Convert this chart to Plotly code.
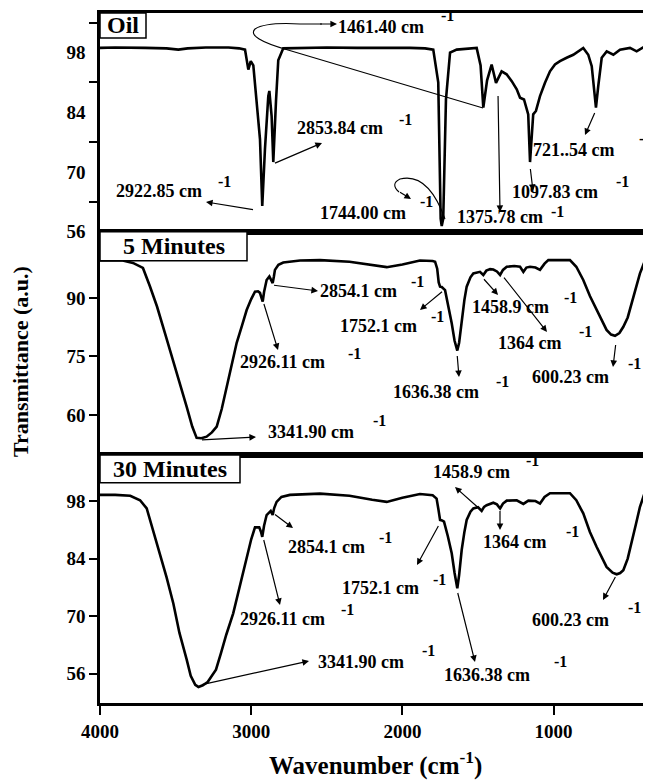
import plotly.graph_objects as go

# ---------------- data ----------------
wn_oil = [4000, 3900, 3700, 3560, 3482, 3420, 3300, 3150, 3080, 3041, 3019, 3003, 2986, 2964,
          2942, 2927, 2909, 2887, 2880, 2865, 2854, 2836, 2821, 2788, 2700, 2500, 2300, 2100,
          1950, 1850, 1796, 1763, 1747, 1740, 1730, 1712, 1685, 1641, 1560, 1509, 1483, 1465,
          1440, 1410, 1381, 1344, 1311, 1277, 1244, 1222, 1196, 1183, 1168, 1156, 1135, 1117,
          1090, 1057, 1024, 991, 958, 914, 870, 804, 771, 748, 733, 720, 705, 682, 649, 605,
          561, 495, 451, 396]
t_oil = [99.1, 99.2, 99.1, 99.0, 98.7, 99.0, 99.2, 99.2, 99.0, 98.7, 94.0, 96.0, 95.0, 87.0,
         77.7, 62.0, 75.4, 87.8, 89.0, 83.1, 72.3, 86.7, 96.2, 99.0, 99.1, 99.2, 99.1, 99.2,
         99.1, 99.0, 98.7, 91.0, 59.0, 57.3, 59.0, 87.0, 98.0, 98.7, 99.0, 99.1, 95.0, 85.1,
         91.5, 95.2, 90.9, 93.6, 92.9, 91.3, 89.4, 87.4, 87.0, 85.5, 83.5, 72.3, 83.5, 84.3,
         87.8, 90.9, 93.6, 95.2, 96.0, 96.8, 97.5, 99.1, 97.5, 94.8, 90.1, 85.1, 90.1, 96.8,
         98.3, 97.5, 98.7, 99.1, 98.3, 99.5]

wn_5 = [4000, 3850, 3782, 3716, 3670, 3623, 3570, 3517, 3470, 3427, 3390, 3361, 3330, 3295,
        3260, 3228, 3195, 3162, 3130, 3096, 3060, 3030, 3000, 2975, 2955, 2942, 2932, 2924,
        2915, 2898, 2880, 2866, 2858, 2850, 2843, 2820, 2788, 2677, 2545, 2350, 2200, 2104,
        2000, 1884, 1800, 1784, 1770, 1760, 1751, 1740, 1718, 1695, 1674, 1655, 1637, 1625,
        1608, 1590, 1575, 1550, 1531, 1487, 1465, 1445, 1420, 1399, 1375, 1354, 1335, 1310,
        1260, 1222, 1200, 1180, 1156, 1120, 1090, 1060, 1035, 950, 892, 850, 804, 760, 716,
        680, 650, 620, 594, 565, 539, 510, 484, 455, 429, 395]
t_5 = [99.6, 99.6, 99.0, 97.7, 93.0, 87.8, 80.9, 74.1, 67.5, 62.1, 57.0, 54.1, 54.0, 54.4,
       55.5, 57.0, 61.5, 67.3, 73.0, 78.5, 83.0, 86.9, 89.7, 91.6, 91.7, 91.3, 90.0, 89.1,
       91.5, 94.6, 95.5, 94.5, 93.8, 95.5, 97.2, 98.5, 99.1, 99.6, 99.7, 99.3, 98.4, 97.9,
       98.6, 99.6, 99.5, 99.3, 97.5, 94.0, 92.9, 92.8, 92.0, 88.0, 83.5, 79.0, 76.5, 78.5,
       84.4, 89.5, 92.9, 95.3, 96.3, 96.7, 95.9, 97.0, 97.4, 97.3, 96.8, 95.9, 97.2, 98.0,
       98.2, 98.0, 96.7, 97.8, 98.0, 97.8, 97.2, 98.8, 99.7, 99.7, 99.7, 98.0, 94.6, 90.5,
       86.9, 84.0, 81.8, 80.6, 80.3, 81.0, 82.6, 85.0, 88.6, 92.5, 96.3, 99.7]

wn_30 = [4000, 3900, 3800, 3735, 3691, 3650, 3603, 3560, 3515, 3475, 3427, 3400, 3370, 3349,
         3320, 3288, 3260, 3233, 3200, 3165, 3119, 3075, 3030, 3000, 2975, 2947, 2935, 2927,
         2915, 2898, 2871, 2858, 2848, 2832, 2800, 2744, 2545, 2350, 2200, 2104, 2000, 1884,
         1800, 1774, 1762, 1751, 1738, 1725, 1700, 1674, 1655, 1637, 1625, 1608, 1590, 1575,
         1550, 1531, 1500, 1476, 1460, 1443, 1399, 1375, 1354, 1335, 1310, 1244, 1200, 1167,
         1120, 1090, 1060, 1024, 892, 850, 804, 760, 716, 680, 650, 610, 583, 560, 539, 510,
         484, 455, 429, 395]
t_30 = [99.5, 99.5, 99.3, 98.2, 96.2, 91.0, 85.3, 79.5, 73.1, 66.0, 59.5, 55.5, 53.3, 52.8,
        53.2, 54.0, 55.5, 57.0, 61.0, 65.5, 70.7, 77.5, 84.5, 88.7, 91.6, 91.6, 90.5, 89.3,
        92.0, 94.6, 95.6, 94.6, 96.3, 97.8, 99.0, 99.5, 99.8, 99.3, 98.3, 97.8, 98.8, 99.7,
        99.4, 98.6, 96.0, 93.4, 93.3, 93.0, 89.5, 85.3, 80.5, 76.8, 80.0, 86.1, 90.5, 93.4,
        95.4, 96.2, 96.5, 95.6, 96.6, 97.0, 97.6, 97.2, 96.2, 97.4, 98.1, 98.2, 97.3, 98.1,
        98.0, 97.4, 99.0, 99.9, 99.9, 98.2, 95.0, 90.5, 86.9, 84.0, 82.0, 80.6, 80.2, 80.5,
        81.2, 84.0, 87.7, 92.5, 96.6, 100.3]

panel_names = ["Oil", "5 Minutes", "30 Minutes"]
x_ticks = [4000, 3000, 2000, 1000]
y_ticks_oil = [98, 84, 70, 56]
y_ticks_5 = [90, 75, 60]
y_ticks_30 = [98, 84, 70, 56]

# ---------------- layout geometry ----------------
# the page body adds an 8 px margin, so the figure is 8 px smaller than the window
W, H = 643, 774
L, R, T, B = 92, 0, 5, 79
PW = W - L - R   # 551
PH = H - T - B   # 690
FONT = "Liberation Serif"


def px(x):  # window pixel -> paper
    return (x - 100) / PW


def py(y):
    return (703 - y) / PH


def dom(top, bottom):
    return [py(bottom), py(top)]


fig = go.Figure()
line = dict(color="black", width=2.6)
fig.add_trace(go.Scatter(x=wn_oil, y=t_oil, mode="lines", line=line, xaxis="x3", yaxis="y3"))
fig.add_trace(go.Scatter(x=wn_5, y=t_5, mode="lines", line=line, xaxis="x2", yaxis="y2"))
fig.add_trace(go.Scatter(x=wn_30, y=t_30, mode="lines", line=line, xaxis="x", yaxis="y"))

tickfont = dict(family=FONT, size=19, color="black", weight="bold")
xr = [4000, 356]
xcommon = dict(range=xr, showline=True, linewidth=2.5, linecolor="black", mirror=True,
               showgrid=False, zeroline=False, automargin=False)
ycommon = dict(showline=True, linewidth=2.5, linecolor="black", mirror=False, showgrid=False,
               zeroline=False, automargin=False, tickfont=tickfont, ticks="outside",
               ticklen=8, tickwidth=2, tickcolor="black")

fig.update_layout(
    width=W, height=H, template="none",
    margin=dict(l=L, r=R, t=T, b=B, pad=0),
    paper_bgcolor="white", plot_bgcolor="white", showlegend=False,
    xaxis=dict(**xcommon, domain=[0, 1], anchor="y", tickvals=x_ticks, ticks="outside",
               ticklen=9, tickwidth=2, tickcolor="black", tickfont=tickfont),
    xaxis2=dict(**xcommon, domain=[0, 1], anchor="y2", matches="x", showticklabels=False, ticks=""),
    xaxis3=dict(**xcommon, domain=[0, 1], anchor="y3", matches="x", showticklabels=False, ticks=""),
    yaxis=dict(**ycommon, domain=dom(455, 703), anchor="x", range=[48.9, 109.2], tickvals=y_ticks_30),
    yaxis2=dict(**ycommon, domain=dom(231.7, 455), anchor="x2", range=[49.7, 107.0], tickvals=y_ticks_5),
    yaxis3=dict(**{**ycommon, "tickcolor": "rgba(0,0,0,0)"}, domain=dom(13, 231.7), anchor="x3",
                range=[55.95, 107.3], tickvals=y_ticks_oil,
                minor=dict(tickmode="array", tickvals=[63, 77, 91, 105], ticks="outside",
                           ticklen=8, tickwidth=2, tickcolor="black")),
)

ann = []
shapes = []


def label(text, x, y, size=18):
    ann.append(dict(text=text, x=px(x), y=py(y), xref="paper", yref="paper", xanchor="left",
                    yanchor="middle", showarrow=False, borderpad=0,
                    font=dict(family=FONT, size=size, color="black", weight="bold")))


def arrow(tail, head, w=1.2):
    ann.append(dict(text=" ", x=px(head[0]), y=py(head[1]), xref="paper", yref="paper",
                    ax=tail[0] - head[0], ay=tail[1] - head[1], showarrow=True, arrowhead=2,
                    arrowsize=1.1, arrowwidth=w, arrowcolor="black", font=dict(size=2)))


def peak(text, tl, sup, tail, head):
    label(text, tl[0], tl[1])
    label("-1", sup[0], sup[1], size=16)
    arrow(tail, head)


# Oil panel
peak("2922.85 cm", (115, 191), (217, 182), (255, 210), (206, 202))
peak("2853.84 cm", (296, 128), (398, 119), (273, 164), (322, 143))
peak("1461.40 cm", (337, 27), (440, 16), (318, 24), (337, 24))
peak("1744.00 cm", (319, 213), (419, 202), (398, 191), (411, 199))
peak("1375.78 cm", (456, 217), (550, 211), (498, 93), (500, 212))
peak("1097.83 cm", (511, 192), (615, 182), (530, 166), (533, 191))
peak("721..54 cm", (532, 150), (638, 139), (596, 110), (585, 135))
# 5 minutes panel
peak("2854.1 cm", (319, 291), (410, 281), (272, 285), (318, 291))
peak("2926.11 cm", (239, 362), (347, 353), (263, 301), (278, 350))
peak("1752.1 cm", (339, 326), (430, 316), (444, 290), (420, 310))
peak("1458.9 cm", (471, 307), (563, 297), (482, 277), (498, 295))
peak("1364 cm", (497, 343), (578, 331), (502, 275), (547, 332))
peak("600.23 cm", (531, 377), (627, 364), (616, 342), (613, 367))
peak("1636.38 cm", (392, 392), (495, 381), (457, 353), (459, 377))
peak("3341.90 cm", (267, 432), (372, 421), (200, 440), (256, 437))
# 30 minutes panel
peak("2854.1 cm", (287, 547), (378, 537), (273, 513), (293, 528))
peak("2926.11 cm", (239, 619), (340, 609), (263, 537), (280, 605))
peak("1752.1 cm", (341, 588), (432, 579), (440, 523), (417, 565))
peak("1458.9 cm", (432, 472), (525, 461), (482, 511), (455, 487))
peak("1364 cm", (482, 542), (565, 531), (500, 508), (500, 530))
peak("600.23 cm", (531, 620), (627, 607), (617, 574), (603, 600))
peak("1636.38 cm", (443, 675), (553, 661), (457, 590), (475, 662))
peak("3341.90 cm", (317, 662), (421, 650), (200, 685), (309, 661))


def path(points):
    s = ""
    for p in points:
        if isinstance(p, str):
            s += " " + p
        else:
            s += " %.5f,%.5f" % (px(p[0]), py(p[1]))
    return s.strip()


# curved leader lines (1461.40 and 1744.00)
shapes.append(dict(type="path", xref="paper", yref="paper",
                   path=path(["M", (483, 108), "L", (288, 50), "Q", (246, 38), (255, 29),
                              "Q", (266, 22), (300, 24), "L", (322, 24)]),
                   line=dict(color="black", width=1.1)))
shapes.append(dict(type="path", xref="paper", yref="paper",
                   path=path(["M", (445, 219), "Q", (428, 172), (400, 179),
                              "Q", (390, 184), (399, 192)]),
                   line=dict(color="black", width=1.1)))

# panel name boxes
boxes = [(100, 146, 13, 38), (100, 247, 231.7, 260.7), (100, 240, 455, 482.7)]
for name, (x0, x1, y0, y1) in zip(panel_names, boxes):
    shapes.append(dict(type="rect", xref="paper", yref="paper", x0=px(x0), x1=px(x1),
                       y0=py(y1), y1=py(y0), line=dict(color="black", width=1.5),
                       fillcolor="white", layer="above"))
    ann.append(dict(text=name, x=px((x0 + x1) / 2), y=py((y0 + y1) / 2), xref="paper",
                    yref="paper", xanchor="center", yanchor="middle", showarrow=False,
                    font=dict(family=FONT, size=24, color="black", weight="bold")))

# axis titles
ann.append(dict(text="Wavenumber (cm<sup>-1</sup>)", x=px(375.5), y=py(782), xref="paper",
                yref="paper", xanchor="center", yanchor="bottom", showarrow=False,
                font=dict(family=FONT, size=25, color="black", weight="bold")))
ann.append(dict(text="Transmittance (a.u.)", x=px(20), y=py(362), xref="paper", yref="paper",
                xanchor="center", yanchor="middle", textangle=-90, showarrow=False,
                font=dict(family=FONT, size=22, color="black", weight="bold")))

fig.update_layout(annotations=ann, shapes=shapes)
fig.write_html("out.html")
